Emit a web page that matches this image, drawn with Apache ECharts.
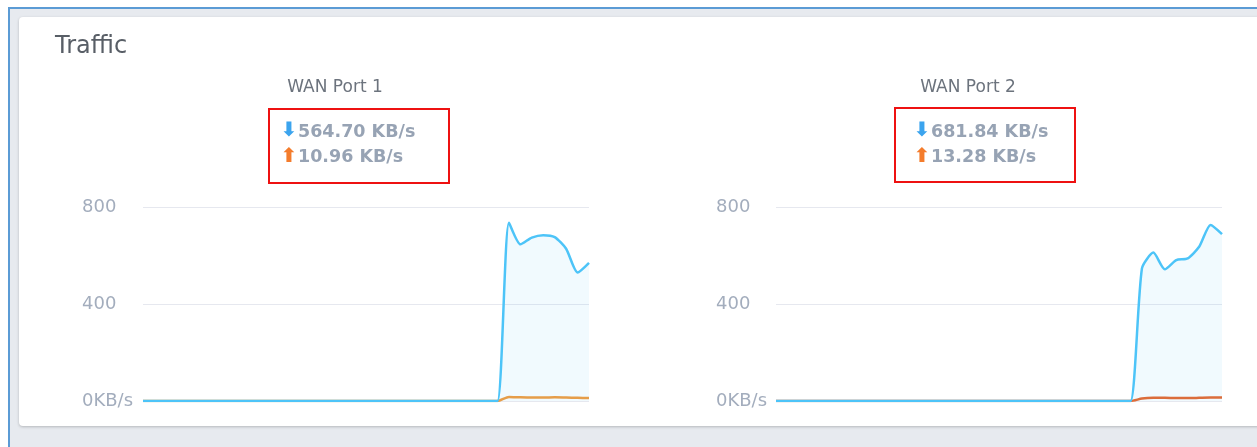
<!DOCTYPE html>
<html>
<head>
<meta charset="utf-8">
<script src="https://cdn.jsdelivr.net/npm/echarts@6/dist/echarts.min.js"></script>
<style>
html,body{margin:0;padding:0;background:#fff;}
#c{width:1257px;height:447px;}
</style>
</head>
<body>
<div id="c"></div>
<script>
// ---- data ----
const categories = Array.from({length: 40}, (_, i) => String(i + 1));
const port1Down = [0,0,0,0,0,0,0,0,0,0,0,0,0,0,0,0,0,0,0,0,0,0,0,0,0,0,0,0,0,0,0,0,735,646,674,684,676,628,530,570];
const port1Up   = [0,0,0,0,0,0,0,0,0,0,0,0,0,0,0,0,0,0,0,0,0,0,0,0,0,0,0,0,0,0,0,0,17,15,14,14,15,14,13,12];
const port2Down = [0,0,0,0,0,0,0,0,0,0,0,0,0,0,0,0,0,0,0,0,0,0,0,0,0,0,0,0,0,0,0,0,547,612,543,581,588,636,726,688];
const port2Up   = [0,0,0,0,0,0,0,0,0,0,0,0,0,0,0,0,0,0,0,0,0,0,0,0,0,0,0,0,0,0,0,0,10,13,13,12,12,13,14,14];
const yTicks = [0, 400, 800];
const portNames = ['WAN Port 1', 'WAN Port 2'];
const downRates = ['564.70 KB/s', '681.84 KB/s'];
const upRates = ['10.96 KB/s', '13.28 KB/s'];

const FONT = '"DejaVu Sans", Verdana, sans-serif';
const chart = echarts.init(document.getElementById('c'));

const gridLefts = [143, 776];
const gridW = 446;
const blueBox = [[269,109],[895,108]];
const titleCx = [335, 968];
const arrowX = [289, 922];
const numX = [298, 931];

function yAxis(i){
  return {
    type: 'value', gridIndex: i, min: yTicks[0], max: yTicks[2], interval: yTicks[1],
    axisLine: {show:false}, axisTick: {show:false},
    splitLine: {lineStyle: {color: '#e6e8ef', width: 1}},
    axisLabel: {
      align: 'left', margin: i === 0 ? 61 : 60,
      color: '#a3adbd', fontSize: 18, fontFamily: FONT,
      formatter: v => v === 0 ? '0KB/s' : String(v)
    }
  };
}
function xAxis(i){
  return {
    type: 'category', gridIndex: i, data: categories, boundaryGap: false,
    axisLine: {show:false}, axisTick: {show:false}, axisLabel: {show:false},
    splitLine: {show:false}
  };
}
function downSeries(i, data){
  return {
    type: 'line', xAxisIndex: i, yAxisIndex: i, data: data, smooth: 0.22,
    symbol: 'none', z: 4,
    lineStyle: {color: '#4dc4f8', width: 2.5},
    itemStyle: {color: '#4dc4f8'},
    areaStyle: {color: 'rgba(77,196,248,0.11)'}
  };
}
function upSeries(i, data, color){
  return {
    type: 'line', xAxisIndex: i, yAxisIndex: i, data: data, smooth: 0.22,
    symbol: 'none', z: 3,
    lineStyle: {color: color, width: 2.5},
    itemStyle: {color: color}
  };
}

const graphics = [
  {type:'rect', z:-20, shape:{x:8, y:7, width:1300, height:500}, style:{fill:'#5b9bd5'}},
  {type:'rect', z:-19, shape:{x:10, y:9, width:1300, height:500}, style:{fill:'#e7eaef'}},
  {type:'rect', z:-18, shape:{x:19, y:17, width:1300, height:409, r:4},
   style:{fill:'#ffffff', shadowBlur:3, shadowColor:'rgba(0,0,0,0.22)', shadowOffsetY:1}},
  {type:'text', z:10, style:{text:'Traffic', x:55, y:47, font:'24px ' + FONT, fill:'#585e66',
    align:'left', verticalAlign:'middle', textAlign:'left', textVerticalAlign:'middle'}}
];
for (let i = 0; i < 2; i++) {
  graphics.push({type:'text', z:10, style:{text: portNames[i], x: titleCx[i], y: 88,
    font: '17px ' + FONT, fill:'#6c737d', align:'center', verticalAlign:'middle',
    textAlign:'center', textVerticalAlign:'middle'}});
  graphics.push({type:'rect', z:10, shape:{x: blueBox[i][0], y: blueBox[i][1], width:180, height:74},
    style:{fill:'none', stroke:'#ee1111', lineWidth:2}});
  graphics.push({type:'text', z:10, style:{text:'⬇', x: arrowX[i], y: 131, font:'bold 20px ' + FONT,
    fill:'#3ba4ee', align:'center', verticalAlign:'middle', textAlign:'center', textVerticalAlign:'middle'}});
  graphics.push({type:'text', z:10, style:{text:'⬆', x: arrowX[i], y: 157, font:'bold 20px ' + FONT,
    fill:'#f47c2c', align:'center', verticalAlign:'middle', textAlign:'center', textVerticalAlign:'middle'}});
  graphics.push({type:'text', z:10, style:{text: downRates[i], x: numX[i], y: 132, font:'bold 17.5px ' + FONT,
    fill:'#97a3b4', align:'left', verticalAlign:'middle', textAlign:'left', textVerticalAlign:'middle'}});
  graphics.push({type:'text', z:10, style:{text: upRates[i], x: numX[i], y: 157, font:'bold 17.5px ' + FONT,
    fill:'#97a3b4', align:'left', verticalAlign:'middle', textAlign:'left', textVerticalAlign:'middle'}});
}

chart.setOption({
  animation: false,
  backgroundColor: '#ffffff',
  graphic: graphics,
  grid: [
    {left: gridLefts[0], top: 207, width: gridW, height: 194, containLabel: false},
    {left: gridLefts[1], top: 207, width: gridW, height: 194, containLabel: false}
  ],
  xAxis: [xAxis(0), xAxis(1)],
  yAxis: [yAxis(0), yAxis(1)],
  series: [
    downSeries(0, port1Down), upSeries(0, port1Up, '#f39b3b'),
    downSeries(1, port2Down), upSeries(1, port2Up, '#e8662c')
  ]
});
</script>
</body>
</html>
